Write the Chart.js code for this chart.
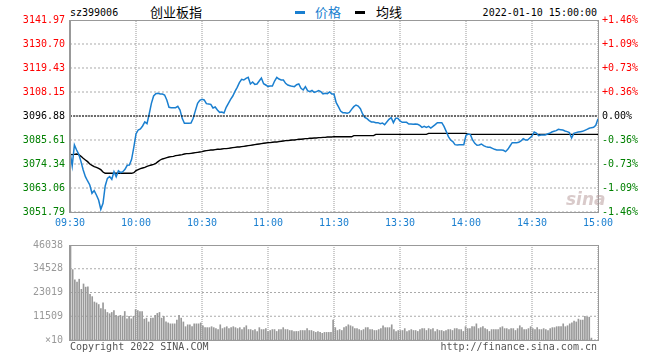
<!DOCTYPE html>
<html>
<head>
<meta charset="utf-8">
<script src="https://cdn.jsdelivr.net/npm/chart.js@4.4.1/dist/chart.umd.min.js"></script>
<style>
    html, body { margin: 0; padding: 0; background: #fff; }
    #wrap { position: relative; width: 660px; height: 360px; overflow: hidden; font-family: "DejaVu Sans Mono", monospace; font-size: 10px; color: #000; }
    #wrap canvas { position: absolute; left: 0; }
    .t { position: absolute; white-space: nowrap; line-height: 12px; }
    .cn { font-family: "Noto Sans CJK SC", sans-serif; font-size: 13px; line-height: 16px; }
    .key { position: absolute; width: 10px; height: 3px; }
    #sina { position: absolute; left: 566px; top: 189px; font: italic bold 17px "DejaVu Sans", sans-serif; color: rgba(180, 150, 150, 0.5); }
</style>
</head>
<body>
<div id="wrap">
    <div class="t" style="left:70px;top:7px;">sz399006</div>
    <div class="t cn" style="left:150px;top:4px;">创业板指</div>
    <div class="key" style="left:295px;top:11px;background:#1a7fd0;"></div>
    <div class="t cn" style="left:315px;top:4px;color:#1a7fd0;">价格</div>
    <div class="key" style="left:355px;top:11px;background:#000;"></div>
    <div class="t cn" style="left:376px;top:4px;">均线</div>
    <div class="t" style="right:63px;top:7px;">2022-01-10 15:00:00</div>
    <canvas id="price-chart" width="660" height="232" style="top:0;"></canvas>
    <canvas id="volume-chart" width="660" height="128" style="top:232px;"></canvas>
    <div id="sina">sina</div>
    <div class="t" style="left:70px;top:341px;color:#555;">Copyright 2022 SINA.COM</div>
    <div class="t" style="right:63px;top:341px;color:#555;">http://finance.sina.com.cn</div>
</div>
<script>
var timeTicks = [0, 30, 60, 90, 120, 150, 180, 210, 240];
var timeLabels = ['09:30', '10:00', '10:30', '11:00', '11:30', '13:30', '14:00', '14:30', '15:00'];
var prevClose = 3096.88;
var priceTicks = [3051.79, 3063.06, 3074.34, 3085.61, 3096.88, 3108.15, 3119.43, 3130.70, 3141.97];
var pctLabels = ['-1.46%', '-1.09%', '-0.73%', '-0.36%', '0.00%', '+0.36%', '+0.73%', '+1.09%', '+1.46%'];

// one value per minute, 09:30 .. 11:30 then 13:01 .. 15:00
var price = [
    3080.13, 3073.40, 3083.27, 3080.92, 3078.88, 3075.44, 3071.53, 3068.40, 3066.36, 3064.48,
    3060.57, 3061.82, 3059.79, 3057.44, 3053.06, 3055.88, 3064.00, 3067.60, 3068.40, 3067.14,
    3070.74, 3068.40, 3071.20, 3070.27, 3070.74, 3071.84, 3073.72, 3073.87, 3076.53, 3082.17,
    3088.43, 3090.31, 3090.78, 3092.19, 3094.07, 3093.28, 3097.82, 3102.83, 3106.27, 3107.37,
    3107.53, 3107.21, 3107.21, 3106.75, 3104.40, 3100.95, 3100.80, 3100.80, 3100.80, 3101.42,
    3099.70, 3095.79, 3093.44, 3093.44, 3093.44, 3093.60, 3095.79, 3099.39, 3102.83, 3104.24,
    3104.71, 3104.40, 3102.67, 3102.52, 3102.36, 3100.64, 3101.11, 3099.70, 3098.60, 3098.76,
    3098.29, 3100.95, 3102.83, 3104.71, 3106.27, 3108.47, 3110.35, 3112.54, 3114.10, 3113.79,
    3114.57, 3115.04, 3111.91, 3112.85, 3111.75, 3111.91, 3113.32, 3114.73, 3112.07, 3111.44,
    3110.81, 3110.97, 3110.97, 3113.32, 3115.04, 3114.26, 3113.79, 3113.79, 3112.22, 3111.44,
    3111.13, 3110.81, 3110.66, 3111.60, 3111.91, 3109.88, 3109.09, 3110.66, 3108.78, 3108.31,
    3108.94, 3108.00, 3108.31, 3108.78, 3108.31, 3107.21, 3107.53, 3107.37, 3108.15, 3107.21,
    3107.21, 3103.14, 3101.27, 3099.23, 3098.45, 3098.45, 3098.14, 3098.60, 3100.01, 3101.27,
    3102.05, 3101.58, 3100.33, 3097.82, 3096.25, 3095.63, 3094.69, 3094.07, 3094.07, 3093.75,
    3093.75, 3093.28, 3093.60, 3092.81, 3094.07, 3095.32, 3096.10, 3093.75, 3095.79, 3095.79,
    3094.53, 3093.91, 3093.91, 3093.91, 3093.13, 3093.13, 3092.97, 3093.13, 3092.97, 3092.50,
    3091.56, 3092.03, 3091.56, 3092.03, 3091.25, 3092.03, 3092.81, 3093.75, 3093.75, 3093.75,
    3092.03, 3089.68, 3087.18, 3085.61, 3084.83, 3083.42, 3083.26, 3083.42, 3083.42, 3083.42,
    3087.80, 3088.43, 3088.12, 3085.61, 3084.05, 3083.11, 3083.26, 3083.73, 3082.95, 3082.48,
    3082.17, 3082.17, 3081.70, 3081.23, 3080.92, 3080.92, 3080.92, 3080.76, 3080.13, 3081.23,
    3082.80, 3084.36, 3084.36, 3084.36, 3084.52, 3085.14, 3086.24, 3085.61, 3085.61, 3086.55,
    3087.49, 3089.37, 3088.90, 3087.65, 3087.96, 3087.96, 3087.96, 3088.43, 3088.74, 3089.37,
    3089.68, 3090.00, 3090.62, 3090.46, 3090.31, 3089.84, 3089.53, 3089.06, 3086.55, 3088.74,
    3089.06, 3089.37, 3089.53, 3089.68, 3090.15, 3090.62, 3091.09, 3091.41, 3091.56, 3092.50,
    3095.63
];

var avgPrice = [
    3078.88, 3078.73, 3078.88, 3079.04, 3078.73, 3077.94, 3077.00, 3076.22, 3075.44, 3074.34,
    3073.72, 3073.09, 3072.78, 3072.30, 3071.68, 3070.59, 3069.96, 3069.96, 3069.96, 3069.96,
    3069.96, 3069.96, 3069.96, 3069.96, 3069.96, 3069.96, 3069.96, 3069.96, 3069.96, 3070.27,
    3071.21, 3071.68, 3072.15, 3072.47, 3072.78, 3073.25, 3073.56, 3073.87, 3074.19, 3074.66,
    3075.44, 3076.22, 3076.69, 3077.00, 3077.32, 3077.63, 3077.79, 3077.94, 3078.26, 3078.41,
    3078.57, 3078.73, 3079.04, 3079.20, 3079.20, 3079.35, 3079.51, 3079.67, 3079.82, 3079.98,
    3080.13, 3080.45, 3080.60, 3080.76, 3080.92, 3080.92, 3081.07, 3081.23, 3081.23, 3081.39,
    3081.54, 3081.54, 3081.70, 3081.86, 3082.01, 3082.17, 3082.33, 3082.33, 3082.48, 3082.64,
    3082.80, 3082.95, 3083.11, 3083.26, 3083.42, 3083.58, 3083.73, 3083.89, 3084.05, 3084.20,
    3084.36, 3084.36, 3084.52, 3084.67, 3084.67, 3084.83, 3084.99, 3085.14, 3085.30, 3085.30,
    3085.46, 3085.61, 3085.61, 3085.77, 3085.93, 3085.93, 3086.08, 3086.24, 3086.24, 3086.40,
    3086.40, 3086.55, 3086.55, 3086.71, 3086.71, 3086.86, 3086.86, 3087.02, 3087.02, 3087.02,
    3087.18, 3087.10, 3087.10, 3087.10, 3087.10, 3087.10, 3087.10, 3087.10, 3087.10, 3087.65,
    3087.65, 3087.65, 3087.65, 3087.65, 3087.65, 3087.65, 3087.65, 3087.65, 3087.65, 3088.27,
    3088.27, 3088.27, 3088.27, 3088.27, 3088.27, 3088.27, 3088.27, 3088.27, 3088.27, 3088.27,
    3088.27, 3088.27, 3088.27, 3088.27, 3088.27, 3088.27, 3088.27, 3088.27, 3088.27, 3088.27,
    3088.27, 3088.27, 3088.27, 3088.74, 3088.74, 3088.74, 3088.74, 3088.74, 3088.74, 3088.74,
    3088.74, 3088.74, 3088.74, 3088.74, 3088.74, 3088.74, 3088.74, 3088.74, 3088.74, 3088.74,
    3088.74, 3088.27, 3088.27, 3088.27, 3088.27, 3088.27, 3088.27, 3088.27, 3088.27, 3088.27,
    3088.27, 3088.27, 3088.27, 3088.27, 3088.27, 3088.27, 3088.27, 3088.27, 3088.27, 3088.27,
    3088.27, 3088.27, 3088.27, 3088.27, 3088.27, 3088.27, 3088.27, 3088.27, 3088.27, 3088.27,
    3088.27, 3088.27, 3088.27, 3088.27, 3088.27, 3088.27, 3088.27, 3088.27, 3088.27, 3088.27,
    3088.27, 3088.27, 3088.27, 3088.27, 3088.27, 3088.27, 3088.27, 3088.27, 3088.27, 3088.27,
    3088.27, 3088.27, 3088.27, 3088.27, 3088.27, 3088.27, 3088.27, 3088.27, 3088.27, 3088.27,
    3088.27
];

var volTicks = [0, 11509, 23019, 34528, 46038];
var volLabels = ['×10', '11509', '23019', '34528', '46038'];
var volume = [
    46038,
    34100, 29150, 28080, 29460, 24550, 27160, 25620, 25780, 22100, 21020,
    18420, 17960, 17190, 15190, 17960, 14730, 13350, 12740, 13350, 14270,
    11970, 11510, 11970, 11360, 13810, 10280, 11510, 10280, 11510, 14730,
    14270, 13810, 13810, 10130, 10590, 8750, 10590, 10590, 11970, 12890,
    13350, 10590, 11510, 8750, 8290, 7830, 7830, 7830, 9670, 11970,
    10590, 8750, 6450, 7370, 7370, 6450, 7830, 7830, 7830, 8290,
    6910, 5990, 5990, 5990, 6450, 5990, 5520, 5060, 7370, 5520,
    5990, 6450, 5520, 5990, 6450, 5990, 5520, 5990, 5060, 5990,
    6910, 5060, 5060, 4600, 5060, 4140, 5990, 5060, 5060, 5520,
    4140, 4600, 5060, 5060, 4140, 5060, 5060, 5990, 5060, 5060,
    4600, 4600, 4140, 4140, 4140, 4600, 4600, 4600, 5520, 4600,
    4600, 4140, 3680, 4140, 3680, 3220, 3680, 3680, 3680, 3680,
    9670, 5990, 4600, 5060, 4600, 5990, 6450, 7370, 6910, 6450,
    5520, 5520, 5060, 4600, 5060, 5990, 5990, 5060, 5060, 4600,
    4600, 5060, 5520, 6910, 5990, 5990, 5990, 7370, 5060, 4140,
    4600, 4600, 4600, 5520, 4140, 4600, 5060, 4600, 4600, 4140,
    5060, 5520, 5520, 4600, 5520, 5060, 5520, 4140, 5060, 4600,
    4600, 4140, 4600, 5060, 5060, 4600, 5520, 5520, 5060, 5060,
    4140, 6450, 5520, 5520, 6450, 6450, 7830, 5520, 5990, 6450,
    5520, 5060, 4140, 5060, 5060, 5060, 5060, 5990, 6450, 5520,
    5520, 5060, 5520, 5520, 4600, 5520, 6910, 5990, 5060, 5060,
    5520, 6450, 5520, 5060, 5990, 5060, 5060, 5520, 5060, 4600,
    5520, 5990, 5990, 6450, 6450, 6450, 7830, 6450, 6910, 7830,
    8290, 9210, 8750, 10130, 9670, 9670, 11510, 11050, 11050, 920
];

(function () {
    Chart.defaults.font.family = '"DejaVu Sans Mono", monospace';
    Chart.defaults.font.size = 10;
    Chart.defaults.animation = false;

    var blue = '#1a7fd0';

    function setTicks(values) {
        return function (scale) {
            scale.ticks = values.map(function (v) { return { value: v }; });
        };
    }

    function priceColor(ctx) {
        var v = ctx.tick.value;
        if (Math.abs(v - prevClose) < 0.005) return '#000';
        return v > prevClose ? '#f00' : '#008000';
    }

    // dotted grid as plain line datasets, one per tick, drawn under everything
    function gridSets(xValues, yValues) {
        var lo = yValues[0], hi = yValues[yValues.length - 1];
        var base = { type: 'line', xAxisID: 'x', yAxisID: 'y', borderWidth: 1, pointRadius: 0, order: 9 };
        var sets = [];
        xValues.forEach(function (v) {
            sets.push(Object.assign({ data: [{ x: v, y: lo }, { x: v, y: hi }], borderColor: '#999', borderDash: [1, 1] }, base));
        });
        yValues.forEach(function (v) {
            sets.push(Object.assign({ data: [{ x: xValues[0], y: v }, { x: xValues[xValues.length - 1], y: v }], borderColor: '#aaa', borderDash: [2, 2] }, base));
        });
        return sets;
    }

    var frame = {
        id: 'frame',
        afterDatasetsDraw: function (chart) {
            var a = chart.chartArea, c = chart.ctx;
            var left = Math.round(a.left), right = Math.round(a.right);
            var top = Math.round(a.top), bottom = Math.round(a.bottom);
            c.save();
            c.strokeStyle = '#999';
            c.lineWidth = 1;
            c.strokeRect(left + 0.5, top + 0.5, right - left, bottom - top);
            c.beginPath();
            c.moveTo(left - 0.5, top);
            c.lineTo(left - 0.5, bottom + 1);
            c.stroke();
            c.restore();
        }
    };

    var toXY = function (arr) {
        return arr.map(function (v, i) { return { x: i, y: v }; });
    };

    new Chart(document.getElementById('price-chart'), {
        type: 'line',
        data: {
            datasets: [
                { data: [{ x: 0, y: prevClose }, { x: 240, y: prevClose }], borderColor: '#000', borderWidth: 1, borderDash: [2, 1], pointRadius: 0, order: 1 },
                { data: toXY(avgPrice), borderColor: '#000', borderWidth: 1.4, pointRadius: 0, tension: 0, order: 2 },
                { data: toXY(price), borderColor: blue, borderWidth: 1.5, pointRadius: 0, tension: 0, order: 1 }
            ].concat(gridSets(timeTicks, priceTicks))
        },
        options: {
            responsive: false,
            devicePixelRatio: 1,
            layout: { padding: { top: 20 } },
            plugins: { legend: { display: false }, tooltip: { enabled: false } },
            scales: {
                x: {
                    type: 'linear', min: 0, max: 240, offset: false,
                    afterBuildTicks: setTicks(timeTicks),
                    afterFit: function (s) { s.height = 20; },
                    grid: { display: false, drawTicks: false },
                    border: { display: false },
                    ticks: {
                        color: blue, padding: 5, maxRotation: 0, autoSkip: false,
                        callback: function (v, i) { return timeLabels[i]; }
                    }
                },
                y: {
                    position: 'left', min: priceTicks[0], max: priceTicks[priceTicks.length - 1],
                    afterBuildTicks: setTicks(priceTicks),
                    afterFit: function (s) { s.width = 70; },
                    grid: { display: false, drawTicks: false },
                    border: { display: false },
                    ticks: {
                        color: priceColor, padding: 5, autoSkip: false,
                        callback: function (v, i) { return priceTicks[i].toFixed(2); }
                    }
                },
                y2: {
                    position: 'right', min: priceTicks[0], max: priceTicks[priceTicks.length - 1],
                    afterBuildTicks: setTicks(priceTicks),
                    afterFit: function (s) { s.width = 62; },
                    grid: { display: false, drawTicks: false },
                    border: { display: false },
                    ticks: {
                        color: priceColor, padding: 4, autoSkip: false,
                        callback: function (v, i) { return pctLabels[i]; }
                    }
                }
            }
        },
        plugins: [frame]
    });

    new Chart(document.getElementById('volume-chart'), {
        type: 'bar',
        data: {
            datasets: [
                { data: toXY(volume), xAxisID: 'xb', backgroundColor: '#999', barThickness: 1, borderWidth: 0, order: 1 }
            ].concat(gridSets(timeTicks, volTicks))
        },
        options: {
            responsive: false,
            devicePixelRatio: 1,
            layout: { padding: { top: 8, bottom: 20, right: 62 } },
            plugins: { legend: { display: false }, tooltip: { enabled: false } },
            scales: {
                x: {
                    type: 'linear', min: 0, max: 240, offset: false,
                    afterBuildTicks: setTicks(timeTicks),
                    afterFit: function (s) { s.height = 0; },
                    grid: { display: false, drawTicks: false },
                    border: { display: false },
                    ticks: { display: false }
                },
                xb: { type: 'linear', min: -0.46, max: 242.8, offset: false, display: false },
                y: {
                    min: 0, max: volTicks[volTicks.length - 1],
                    afterBuildTicks: setTicks(volTicks),
                    afterFit: function (s) { s.width = 70; },
                    grid: { display: false, drawTicks: false },
                    border: { display: false },
                    ticks: {
                        color: '#999', padding: 7, autoSkip: false,
                        callback: function (v, i) { return volLabels[i]; }
                    }
                }
            }
        },
        plugins: [frame]
    });
})();
</script>
</body>
</html>
